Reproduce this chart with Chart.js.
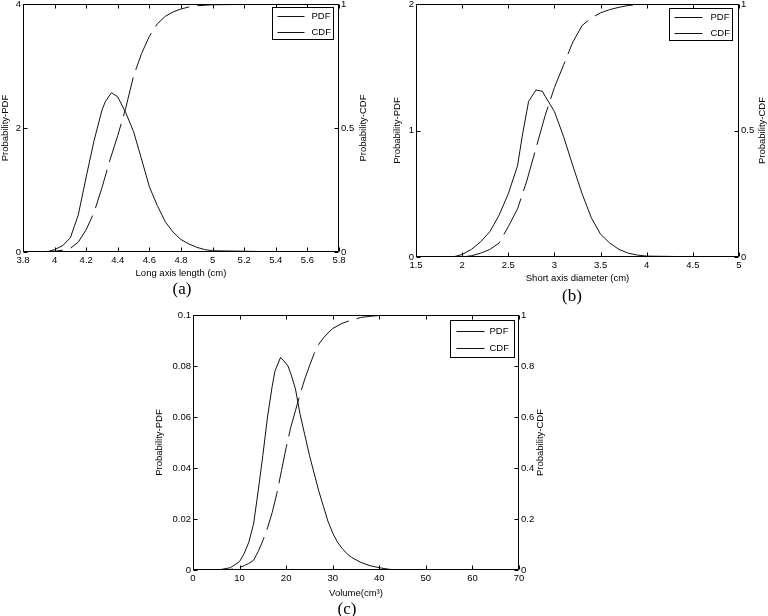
<!DOCTYPE html>
<html>
<head>
<meta charset="utf-8">
<script src="https://cdn.jsdelivr.net/npm/chart.js@4.4.1/dist/chart.umd.min.js"></script>
<style>
  body { margin: 0; background: #fff; }
  #page { position: relative; width: 768px; height: 616px; overflow: hidden; background: #fff; }
  canvas { position: absolute; }
  .cap { position: absolute; width: 60px; text-align: center; font-family: 'Liberation Serif', 'Times New Roman', serif; font-size: 17px; line-height: 18px; color: #000; }
</style>
</head>
<body>
<div id="page">
  <canvas id="chartA" width="384" height="282" style="left:0px;top:0px"></canvas>
  <canvas id="chartB" width="376" height="287" style="left:392px;top:0px"></canvas>
  <canvas id="chartC" width="406" height="291" style="left:154px;top:311px"></canvas>
  <div class="cap" style="left:152px;top:280px">(a)</div>
  <div class="cap" style="left:542px;top:287px">(b)</div>
  <div class="cap" style="left:317px;top:600px">(c)</div>
</div>
<script>
// (a) long axis length
const aX = [3.8, 3.95, 4.0, 4.05, 4.1, 4.15, 4.2, 4.25, 4.3, 4.32, 4.36, 4.4, 4.45, 4.5, 4.55, 4.6, 4.65, 4.7, 4.75, 4.8, 4.85, 4.9, 4.95, 5.0, 5.5];
const aPdf = [0, 0, 0.04, 0.1, 0.23, 0.6, 1.21, 1.8, 2.29, 2.42, 2.57, 2.5, 2.25, 1.94, 1.5, 1.05, 0.75, 0.49, 0.32, 0.2, 0.13, 0.075, 0.04, 0.02, 0];
const aCdfX = [3.8, 4.0, 4.05, 4.1, 4.15, 4.2, 4.25, 4.3, 4.35, 4.4, 4.45, 4.5, 4.55, 4.6, 4.65, 4.7, 4.75, 4.8, 4.85, 4.9, 5.0, 5.5];
const aCdf = [0, 0.003, 0.007, 0.015, 0.04, 0.09, 0.16, 0.26, 0.37, 0.47, 0.58, 0.71, 0.8, 0.87, 0.92, 0.95, 0.968, 0.98, 0.988, 0.993, 0.997, 1];
const aXTicks = [3.8, 4, 4.2, 4.4, 4.6, 4.8, 5, 5.2, 5.4, 5.6, 5.8];
const aYTicks = [0, 2, 4];

// (b) short axis diameter
const bX = [1.5, 1.9, 2.0, 2.1, 2.2, 2.3, 2.4, 2.5, 2.6, 2.65, 2.7, 2.72, 2.8, 2.87, 2.9, 3.0, 3.1, 3.2, 3.3, 3.4, 3.5, 3.6, 3.7, 3.8, 3.9, 4.0, 4.73];
const bPdf = [0, 0, 0.02, 0.06, 0.12, 0.2, 0.33, 0.5, 0.72, 0.95, 1.15, 1.23, 1.32, 1.31, 1.27, 1.15, 0.95, 0.72, 0.5, 0.31, 0.18, 0.11, 0.06, 0.03, 0.015, 0.007, 0];
const bCdfX = [1.5, 2.0, 2.1, 2.2, 2.3, 2.4, 2.5, 2.6, 2.7, 2.8, 2.9, 3.0, 3.1, 3.2, 3.3, 3.4, 3.5, 3.6, 3.7, 3.8, 3.9, 4.0, 4.75];
const bCdf = [0, 0, 0.005, 0.015, 0.03, 0.055, 0.12, 0.19, 0.3, 0.43, 0.56, 0.67, 0.76, 0.85, 0.915, 0.945, 0.965, 0.978, 0.987, 0.994, 0.998, 1, 1];
const bXTicks = [1.5, 2, 2.5, 3, 3.5, 4, 4.5, 5];
const bYTicks = [0, 1, 2];

// (c) volume
const cX = [0, 5, 6, 8, 10, 11, 12, 13, 14, 15, 16, 17, 17.6, 18.8, 19.5, 20.4, 21, 22, 23, 24, 25, 26, 27, 28, 29, 30, 31, 32, 33, 34, 35, 36, 38, 40, 42, 44, 59.3];
const cPdf = [0, 0, 0.0002, 0.0009, 0.0033, 0.0065, 0.011, 0.018, 0.031, 0.045, 0.06, 0.072, 0.078, 0.0834, 0.082, 0.08, 0.077, 0.071, 0.061, 0.053, 0.045, 0.038, 0.031, 0.025, 0.019, 0.0145, 0.011, 0.0085, 0.0065, 0.005, 0.004, 0.003, 0.0017, 0.0009, 0.0003, 0, 0];
const cCdfX = [0, 7, 8, 9, 10, 11, 12, 13, 14, 15, 16, 17, 18, 19, 20, 21, 22, 23, 24, 25, 26, 27, 28, 29, 30, 32, 34, 36, 38, 40, 42, 59.3];
const cCdf = [0, 0, 0.002, 0.005, 0.01, 0.017, 0.026, 0.038, 0.072, 0.115, 0.165, 0.225, 0.3, 0.39, 0.48, 0.56, 0.625, 0.69, 0.749, 0.8, 0.848, 0.885, 0.91, 0.93, 0.947, 0.967, 0.98, 0.99, 0.995, 0.998, 1, 1];
const cXTicks = [0, 10, 20, 30, 40, 50, 60, 70];
const cYTicks = [0, 0.02, 0.04, 0.06, 0.08, 0.1];
const cY2Ticks = [0, 0.2, 0.4, 0.6, 0.8, 1];

const halfTicks = [0, 0.5, 1];
const seriesNames = ['PDF', 'CDF'];

Chart.defaults.font.family = "'Liberation Sans', Arial, Helvetica, sans-serif";
Chart.defaults.font.size = 9.5;
Chart.defaults.color = '#000';

const ink = '#111';

function pairs(xs, ys) {
  return xs.map((x, i) => ({ x: x, y: ys[i] }));
}

function tickText(v) {
  return String(Math.round(v * 1000) / 1000);
}

function useTicks(list) {
  return scale => { scale.ticks = list.map(v => ({ value: v })); };
}

function fixSize(prop, size) {
  return scale => {
    scale[prop] = size;
    scale.paddingTop = 0;
    scale.paddingBottom = 0;
    scale.paddingLeft = 0;
    scale.paddingRight = 0;
  };
}

// box, inward ticks, right axis title and legend, matlab style
const framePlugin = {
  id: 'frame',
  afterDraw(chart, args, opts) {
    const { ctx, chartArea: a, scales } = chart;
    const L = Math.round(a.left) + 0.5, R = Math.round(a.right) - 0.5;
    const T = Math.round(a.top) + 0.5, B = Math.round(a.bottom) - 0.5;
    const len = 4;
    ctx.save();
    ctx.strokeStyle = '#000';
    ctx.lineWidth = 1;
    ctx.beginPath();
    ctx.rect(L, T, R - L, B - T);
    scales.x.ticks.forEach(t => {
      const px = Math.round(scales.x.getPixelForValue(t.value)) + 0.5;
      ctx.moveTo(px, B); ctx.lineTo(px, B - len);
      ctx.moveTo(px, T); ctx.lineTo(px, T + len);
    });
    scales.y.ticks.forEach(t => {
      const py = Math.round(scales.y.getPixelForValue(t.value)) + 0.5;
      ctx.moveTo(L, py); ctx.lineTo(L + len, py);
    });
    scales.y1.ticks.forEach(t => {
      const py = Math.round(scales.y1.getPixelForValue(t.value)) + 0.5;
      ctx.moveTo(R, py); ctx.lineTo(R - len, py);
    });
    ctx.stroke();

    ctx.font = "9.5px 'Liberation Sans', Arial, sans-serif";
    ctx.fillStyle = '#000';
    ctx.save();
    ctx.translate(a.right + opts.titleGap, (a.top + a.bottom) / 2);
    ctx.rotate(-Math.PI / 2);
    ctx.textAlign = 'center';
    ctx.textBaseline = 'middle';
    ctx.fillText(opts.rightTitle, 0, 0);
    ctx.restore();

    const g = opts.legend;
    const bx = Math.round(a.right - g.dx - g.w) + 0.5;
    const by = Math.round(a.top + g.dy) + 0.5;
    ctx.fillStyle = '#fff';
    ctx.fillRect(bx, by, g.w, g.h);
    ctx.strokeRect(bx, by, g.w, g.h);
    ctx.fillStyle = '#000';
    ctx.textAlign = 'left';
    ctx.textBaseline = 'middle';
    chart.data.datasets.forEach((ds, i) => {
      const y = Math.round(by + g.h * (i === 0 ? 0.28 : 0.75)) + 0.5;
      ctx.strokeStyle = ink;
      ctx.beginPath();
      ctx.moveTo(bx + g.lineFrom, y);
      ctx.lineTo(bx + g.lineTo, y);
      ctx.stroke();
      ctx.fillText(ds.label, bx + g.textAt, y);
    });
    ctx.restore();
  }
};

function makeFigure(canvasId, d) {
  return new Chart(document.getElementById(canvasId), {
    type: 'line',
    data: {
      datasets: [
        {
          label: seriesNames[0],
          data: pairs(d.pdfX, d.pdf),
          yAxisID: 'y',
          borderColor: ink,
          borderWidth: 1,
          pointRadius: 0,
          tension: 0,
          fill: false
        },
        {
          label: seriesNames[1],
          data: pairs(d.cdfX, d.cdf),
          yAxisID: 'y1',
          borderColor: ink,
          borderWidth: 1,
          borderDash: [40, 8],
          pointRadius: 0,
          tension: 0,
          fill: false
        }
      ]
    },
    options: {
      responsive: false,
      animation: false,
      events: [],
      layout: { padding: { top: 4, left: 0, right: 0, bottom: 0 } },
      plugins: {
        legend: { display: false },
        tooltip: { enabled: false },
        frame: { rightTitle: 'Probability-CDF', titleGap: d.titleGap, legend: d.legend }
      },
      scales: {
        x: {
          type: 'linear',
          min: d.xTicks[0],
          max: d.xTicks[d.xTicks.length - 1],
          grid: { display: false, drawTicks: false },
          border: { display: false },
          afterBuildTicks: useTicks(d.xTicks),
          afterFit: fixSize('height', d.bottomH),
          ticks: { autoSkip: false, maxRotation: 0, padding: 2.5, callback: tickText },
          title: { display: true, text: d.xTitle, padding: { top: 0, bottom: 3 } }
        },
        y: {
          position: 'left',
          min: d.yTicks[0],
          max: d.yTicks[d.yTicks.length - 1],
          grid: { display: false, drawTicks: false },
          border: { display: false },
          afterBuildTicks: useTicks(d.yTicks),
          afterFit: fixSize('width', d.leftW),
          ticks: { autoSkip: false, padding: 2, callback: tickText },
          title: { display: true, text: 'Probability-PDF', padding: { top: 0, bottom: 0 } }
        },
        y1: {
          position: 'right',
          min: 0,
          max: 1,
          grid: { display: false, drawTicks: false },
          border: { display: false },
          afterBuildTicks: useTicks(d.y2Ticks),
          afterFit: fixSize('width', d.rightW),
          ticks: { autoSkip: false, padding: 2, callback: tickText }
        }
      }
    },
    plugins: [framePlugin]
  });
}

makeFigure('chartA', {
  pdfX: aX, pdf: aPdf, cdfX: aCdfX, cdf: aCdf,
  xTicks: aXTicks, yTicks: aYTicks, y2Ticks: halfTicks,
  xTitle: 'Long axis length (cm)',
  leftW: 23, rightW: 45, bottomH: 30, titleGap: 24,
  legend: { dx: 6, dy: 3, w: 61, h: 32, lineFrom: 5, lineTo: 32, textAt: 39 }
});

makeFigure('chartB', {
  pdfX: bX, pdf: bPdf, cdfX: bCdfX, cdf: bCdf,
  xTicks: bXTicks, yTicks: bYTicks, y2Ticks: halfTicks,
  xTitle: 'Short axis diameter (cm)',
  leftW: 24, rightW: 29, bottomH: 30, titleGap: 23,
  legend: { dx: 7, dy: 4, w: 63, h: 32, lineFrom: 5, lineTo: 33, textAt: 41 }
});

makeFigure('chartC', {
  pdfX: cX, pdf: cPdf, cdfX: cCdfX, cdf: cCdf,
  xTicks: cXTicks, yTicks: cYTicks, y2Ticks: cY2Ticks,
  xTitle: 'Volume(cm³)',
  leftW: 39, rightW: 41, bottomH: 32, titleGap: 21.5,
  legend: { dx: 5, dy: 5, w: 64, h: 37, lineFrom: 6, lineTo: 34, textAt: 39 }
});
</script>
</body>
</html>
